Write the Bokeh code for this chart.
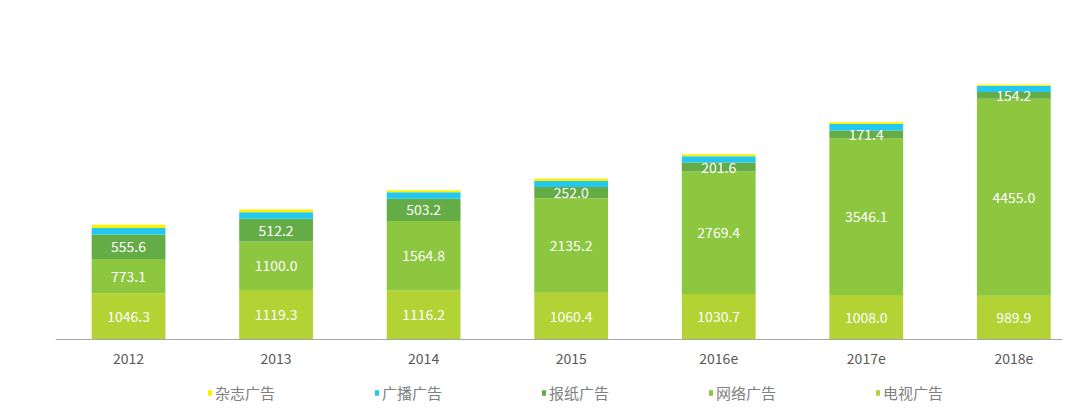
from bokeh.plotting import figure
from bokeh.models import ColumnDataSource, Legend, LegendItem, FixedTicker, Range1d
from bokeh.core.properties import value
from bokeh.embed import file_html
from bokeh.resources import INLINE

years = ["2012", "2013", "2014", "2015", "2016e", "2017e", "2018e"]
tv = [1046.3, 1119.3, 1116.2, 1060.4, 1030.7, 1008.0, 989.9]
network = [773.1, 1100.0, 1564.8, 2135.2, 2769.4, 3546.1, 4455.0]
newspaper = [555.6, 512.2, 503.2, 252.0, 201.6, 171.4, 154.2]
radio = [150, 145, 145, 140, 145, 150, 140]
magazine = [70, 65, 50, 55, 45, 40, 30]

names = ["电视广告", "网络广告", "报纸广告", "广播广告", "杂志广告"]
keys = ["tv", "network", "newspaper", "radio", "magazine"]
colors = ["#B3D234", "#8DC63F", "#64AC45", "#22C8F0", "#FFF000"]

FONT = "Noto Sans CJK SC"
xs = list(range(len(years)))

src = ColumnDataSource(dict(x=xs, tv=tv, network=network, newspaper=newspaper,
                            radio=radio, magazine=magazine))

p = figure(width=1074, height=416, output_backend="svg", toolbar_location=None,
           x_range=Range1d(-0.495, 6.33), y_range=Range1d(-1742, 7443),
           min_border_left=55, min_border_right=12, min_border_top=10,
           min_border_bottom=0, outline_line_color=None)

rs = p.vbar_stack(keys, x="x", width=0.5, color=colors, line_color=None, source=src)

# data labels (TV, network, newspaper)
lx, ly, lt = [], [], []
for i in xs:
    base = 0.0
    for vals in (tv, network, newspaper):
        v = vals[i]
        lx.append(i)
        ly.append(base + v / 2)
        lt.append(f"{v:.1f}")
        base += v
p.text(x=lx, y=ly, text=lt, text_color="white", text_align="center",
       text_baseline="middle", text_font=value(FONT), text_font_size="14px")

p.xgrid.grid_line_color = None
p.ygrid.grid_line_color = None
p.yaxis.visible = False

ax = p.xaxis[0]
ax.fixed_location = 0
ax.ticker = FixedTicker(ticks=xs)
ax.major_label_overrides = {i: y for i, y in enumerate(years)}
ax.major_tick_line_color = None
ax.minor_tick_line_color = None
ax.axis_line_color = "#A6A6A6"
ax.major_label_text_color = "#595959"
ax.major_label_text_font = FONT
ax.major_label_text_font_size = "14px"
ax.major_label_standoff = 8

items = [LegendItem(label=names[k], renderers=[rs[k]]) for k in [4, 3, 2, 1, 0]]
legend = Legend(items=items, orientation="horizontal", location=(152, 13),
                label_text_font=FONT, label_text_font_size="15px",
                label_text_color="#808080", glyph_width=5, glyph_height=7,
                label_standoff=3, spacing=99, padding=0, margin=0,
                border_line_color=None, background_fill_alpha=0,
                label_height=16)
p.add_layout(legend, "center")

open("out.html", "w").write(file_html(p, INLINE))
